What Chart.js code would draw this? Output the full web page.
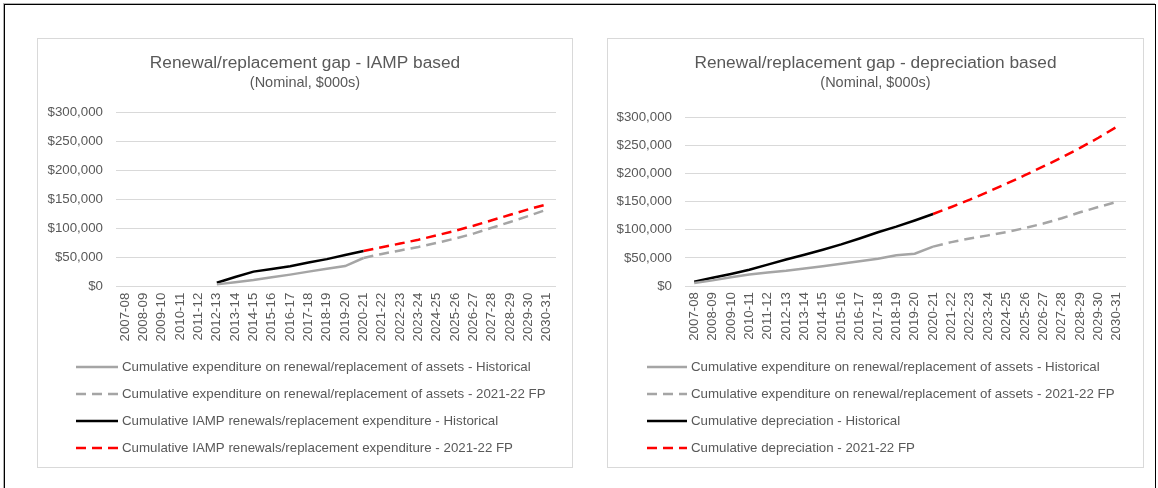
<!DOCTYPE html>
<html>
<head>
<meta charset="utf-8">
<script src="https://cdn.jsdelivr.net/npm/chart.js@4.4.0/dist/chart.umd.min.js"></script>
<style>
  html, body { margin: 0; padding: 0; background: #fff; width: 1158px; height: 488px; overflow: hidden; }
  .frame { position: absolute; left: 4px; top: 4px; width: 1150px; height: 520px; border: 1px solid #000; box-shadow: -1px -1px 0 #b0b0b0; }
  .box { position: absolute; top: 38px; height: 428px; border: 1px solid #d9d9d9; background: #fff; }
  #boxA { left: 37px; width: 534px; }
  #boxB { left: 607px; width: 535px; }
  canvas { display: block; }
</style>
</head>
<body>
<div class="frame"></div>
<div class="box" id="boxA"><canvas id="chartA" width="534" height="428"></canvas></div>
<div class="box" id="boxB"><canvas id="chartB" width="535" height="428"></canvas></div>
<script>
const years = ['2007-08', '2008-09', '2009-10', '2010-11', '2011-12', '2012-13', '2013-14', '2014-15',
  '2015-16', '2016-17', '2017-18', '2018-19', '2019-20', '2020-21', '2021-22', '2022-23', '2023-24',
  '2024-25', '2025-26', '2026-27', '2027-28', '2028-29', '2029-30', '2030-31'];
const yTicks = [0, 50000, 100000, 150000, 200000, 250000, 300000];

// left chart - IAMP based
const iampSpendHist = [null, null, null, null, null, 4000, 7500, 11500, 16300, 20800, 26000, 31000, 35500, 49500,
  null, null, null, null, null, null, null, null, null, null];
const iampSpendFP = [null, null, null, null, null, null, null, null, null, null, null, null, null, 49500,
  56500, 62500, 68500, 75500, 83000, 91500, 101500, 111500, 122000, 133000];
const iampHist = [null, null, null, null, null, 6900, 16800, 26000, 30700, 35400, 41700, 47500, 54500, 61500,
  null, null, null, null, null, null, null, null, null, null];
const iampFP = [null, null, null, null, null, null, null, null, null, null, null, null, null, 61500,
  68000, 74400, 81000, 88500, 96500, 105000, 114500, 124000, 133500, 142000];

// right chart - depreciation based
const deprSpendHist = [5500, 10000, 15500, 20500, 24000, 27000, 31000, 35000, 39500, 44000, 48500, 54500, 57500, 70000,
  null, null, null, null, null, null, null, null, null, null];
const deprSpendFP = [null, null, null, null, null, null, null, null, null, null, null, null, null, 70000,
  78000, 84500, 90000, 96000, 103000, 111000, 120500, 131000, 140500, 149500];
const deprHist = [7500, 14500, 21500, 29000, 38000, 47000, 55500, 64500, 74000, 84500, 95500, 105500, 116500, 128000,
  null, null, null, null, null, null, null, null, null, null];
const deprFP = [null, null, null, null, null, null, null, null, null, null, null, null, null, 128000,
  140500, 153500, 167500, 182000, 197000, 212500, 228500, 245500, 263500, 283000];

const FONT = '"Liberation Sans", Arial, sans-serif';
const TEXT = '#595959';
const GREY = '#a5a5a5';

const listLegend = {
  id: 'listLegend',
  afterDraw(chart, args, opts) {
    const ctx = chart.ctx;
    ctx.save();
    ctx.font = '13.3px ' + FONT;
    ctx.fillStyle = TEXT;
    ctx.textBaseline = 'middle';
    chart.data.datasets.forEach((ds, i) => {
      const y = opts.top + i * opts.rowGap;
      ctx.beginPath();
      ctx.strokeStyle = ds.borderColor;
      ctx.lineWidth = ds.borderWidth;
      ctx.setLineDash(ds.borderDash || []);
      ctx.moveTo(opts.left, y);
      ctx.lineTo(opts.left + opts.lineLen, y);
      ctx.stroke();
      ctx.setLineDash([]);
      ctx.fillText(ds.label, opts.left + opts.lineLen + 4, y);
    });
    ctx.restore();
  }
};

function series(label, data, color, dashed) {
  return {
    label: label,
    data: data,
    borderColor: color,
    backgroundColor: color,
    borderWidth: 2.5,
    borderDash: dashed ? [10, 6] : [],
    pointRadius: 0,
    tension: 0,
    fill: false
  };
}

function makeChart(id, title, datasets, lay) {
  return new Chart(document.getElementById(id), {
    type: 'line',
    data: { labels: years, datasets: datasets },
    options: {
      responsive: false,
      animation: false,
      layout: { padding: { left: 0, right: 0, top: 0, bottom: lay.bottom } },
      plugins: {
        legend: { display: false },
        tooltip: { enabled: false },
        title: {
          display: true, text: title, color: TEXT,
          font: { family: FONT, size: 17.3, weight: 'normal' },
          padding: { top: 13.6, bottom: 0 }
        },
        subtitle: {
          display: true, text: '(Nominal, $000s)', color: TEXT,
          font: { family: FONT, size: 14.5, weight: 'normal' },
          padding: { top: 1, bottom: lay.subGap }
        },
        listLegend: { left: lay.legLeft, lineLen: lay.legLen, top: 328, rowGap: 27 }
      },
      scales: {
        x: {
          offset: true,
          grid: { display: false, drawTicks: false },
          border: { display: false },
          ticks: {
            color: TEXT, font: { family: FONT, size: 13.3 },
            minRotation: 90, maxRotation: 90, autoSkip: false, padding: 6
          },
          afterFit(scale) { scale.height = 70; }
        },
        y: {
          min: 0, max: 300000,
          afterBuildTicks(scale) { scale.ticks = yTicks.map(v => ({ value: v })); },
          grid: { color: '#d9d9d9', lineWidth: 1, drawTicks: false },
          border: { display: false },
          ticks: {
            color: TEXT, font: { family: FONT, size: 13.3 }, padding: 13,
            callback: v => '$' + v.toLocaleString('en-US')
          },
          afterFit(scale) { scale.width = lay.yWidth; }
        },
        // empty right-hand spacer so the titles stay centred on the whole box
        spacer: {
          position: 'right',
          grid: { display: false, drawTicks: false },
          border: { display: false },
          ticks: { display: false },
          afterFit(scale) { scale.width = lay.right; }
        }
      }
    },
    plugins: [listLegend]
  });
}

makeChart('chartA', 'Renewal/replacement gap - IAMP based', [
  series('Cumulative expenditure on renewal/replacement of assets - Historical', iampSpendHist, GREY, false),
  series('Cumulative expenditure on renewal/replacement of assets - 2021-22 FP', iampSpendFP, GREY, true),
  series('Cumulative IAMP renewals/replacement expenditure - Historical', iampHist, '#000000', false),
  series('Cumulative IAMP renewals/replacement expenditure - 2021-22 FP', iampFP, '#ff0000', true)
], { right: 16, bottom: 110.3, subGap: 20.9, yWidth: 78, legLeft: 38, legLen: 42 });

makeChart('chartB', 'Renewal/replacement gap - depreciation based', [
  series('Cumulative expenditure on renewal/replacement of assets - Historical', deprSpendHist, GREY, false),
  series('Cumulative expenditure on renewal/replacement of assets - 2021-22 FP', deprSpendFP, GREY, true),
  series('Cumulative depreciation - Historical', deprHist, '#000000', false),
  series('Cumulative depreciation - 2021-22 FP', deprFP, '#ff0000', true)
], { right: 17, bottom: 111, subGap: 25.5, yWidth: 77, legLeft: 39, legLen: 40 });
</script>
</body>
</html>
